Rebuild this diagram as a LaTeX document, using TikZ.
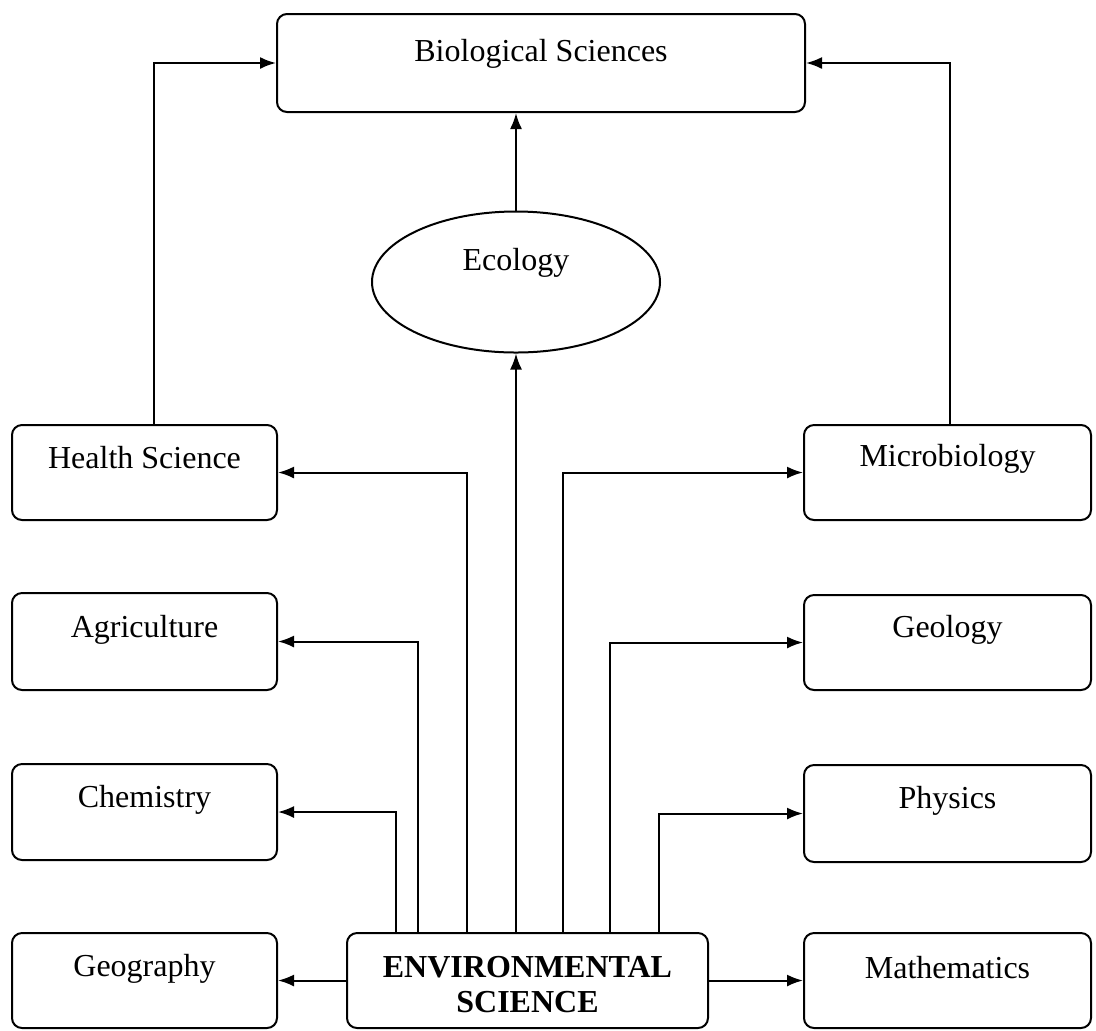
\documentclass[tikz,border=0pt]{standalone}
\usepackage{fontspec}
\setmainfont{Liberation Serif}
\usetikzlibrary{arrows.meta,shapes.geometric}
\begin{document}
\begin{tikzpicture}[x=0.5pt,y=-0.5pt,
  box/.style={draw=black,line width=1pt,rounded corners=5pt,inner sep=0pt},
  oval/.style={draw=black,line width=1pt,ellipse,inner sep=0pt},
  lbl/.style={anchor=base,inner sep=0pt,font=\fontsize{16}{19}\selectfont},
  arr/.style={draw=black,line width=1pt,-{Latex[length=8pt,width=6pt]}}]
\useasboundingbox (0,0) rectangle (1096,1030);
% boxes
\node[box,minimum width=264pt,minimum height=49pt] (bio) at (541,63) {};
\node[oval,minimum width=144pt,minimum height=70.5pt] (eco) at (516,282) {};
\node[box,minimum width=132.5pt,minimum height=47.5pt] (hs) at (144.5,472.5) {};
\node[box,minimum width=132.5pt,minimum height=48.5pt] (ag) at (144.5,641.5) {};
\node[box,minimum width=132.5pt,minimum height=48pt] (ch) at (144.5,812) {};
\node[box,minimum width=132.5pt,minimum height=47.5pt] (gg) at (144.5,980.5) {};
\node[box,minimum width=180.5pt,minimum height=47.5pt] (env) at (527.5,980.5) {};
\node[box,minimum width=143.5pt,minimum height=47.5pt] (mb) at (947.5,472.5) {};
\node[box,minimum width=143.5pt,minimum height=47.5pt] (gl) at (947.5,642.5) {};
\node[box,minimum width=143.5pt,minimum height=48.5pt] (ph) at (947.5,813.5) {};
\node[box,minimum width=143.5pt,minimum height=47.5pt] (ma) at (947.5,980.5) {};
% labels
\node[lbl] (tbio) at (541,61) {Biological Sciences};
\node[lbl] (teco) at (516,270) {Ecology};
\node[lbl] (ths) at (144.5,468) {Health Science};
\node[lbl] (tag) at (144.5,637) {Agriculture};
\node[lbl] (tch) at (144.5,807) {Chemistry};
\node[lbl] (tgg) at (144.5,976) {Geography};
\node[lbl,font=\fontsize{16}{19}\selectfont\bfseries] (tenv1) at (527.5,977) {ENVIRONMENTAL};
\node[lbl,font=\fontsize{16}{19}\selectfont\bfseries] (tenv2) at (527.5,1012) {SCIENCE};
\node[lbl] (tmb) at (947.5,466) {Microbiology};
\node[lbl] (tgl) at (947.5,637) {Geology};
\node[lbl] (tph) at (947.5,808) {Physics};
\node[lbl] (tma) at (947.5,978) {Mathematics};
% connector columns
\coordinate (xhs) at (154,0);
\coordinate (xmb) at (950,0);
\coordinate (x1) at (396,0);
\coordinate (x2) at (418,0);
\coordinate (x3) at (467,0);
\coordinate (x5) at (563,0);
\coordinate (x6) at (610,0);
\coordinate (x7) at (659,0);
% connectors
\draw[arr] (hs.north -| xhs) |- (bio.west);
\draw[arr] (mb.north -| xmb) |- (bio.east);
\draw[arr] (eco.north) -- (eco.north |- bio.south);
\draw[arr] (env.north -| eco.south) -- (eco.south);
\draw[arr] (env.north -| x3) |- (hs.east);
\draw[arr] (env.north -| x2) |- (ag.east);
\draw[arr] (env.north -| x1) |- (ch.east);
\draw[arr] (env.north -| x5) |- (mb.west);
\draw[arr] (env.north -| x6) |- (gl.west);
\draw[arr] (env.north -| x7) |- (ph.west);
\draw[arr] (env.west) -- (gg.east);
\draw[arr] (env.east) -- (ma.west);
\end{tikzpicture}
\end{document}
